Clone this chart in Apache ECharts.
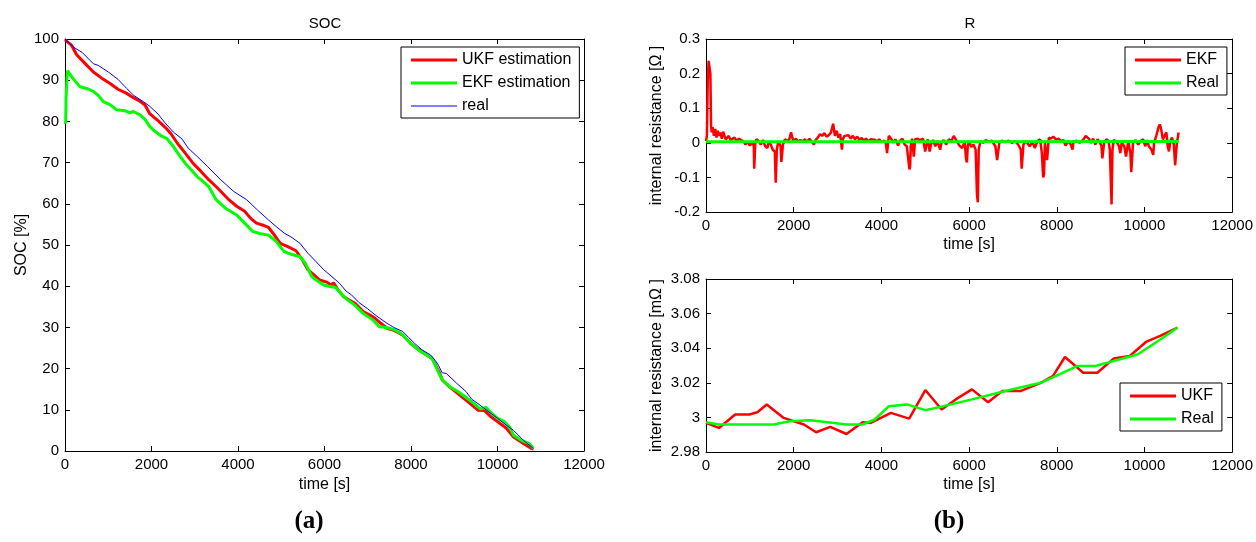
<!DOCTYPE html>
<html>
<head>
<meta charset="utf-8">
<title>SOC / R</title>
<script src="https://cdn.jsdelivr.net/npm/echarts@6/dist/echarts.min.js"></script>
<style>
  html, body { margin: 0; padding: 0; background: #fff; }
  #main { width: 1256px; height: 542px; }
</style>
</head>
<body>
<div id="main"></div>
<script>
// ---- data ----
// (a) SOC [%] vs time [s]
var socUkf = [[0,99.8],[150,98.5],[270,96.2],[450,94.2],[655,92.0],[850,90.5],[1043,89.2],[1226,87.8],[1426,86.8],[1591,85.7],[1734,84.9],[1850,84.0],
  [1957,81.9],[2150,80.2],[2323,78.5],[2450,77.0],[2598,74.7],[2780,72.3],[2963,69.8],[3150,67.8],[3329,65.8],[3550,63.6],[3787,61.0],[3970,59.4],
  [4153,58.2],[4300,56.4],[4427,55.3],[4580,54.8],[4702,54.3],[4850,52.3],[4976,50.4],[5150,49.6],[5342,48.6],[5500,46.2],[5616,44.0],[5750,42.8],
  [5890,41.5],[6050,41.0],[6150,40.3],[6210,40.8],[6300,39.3],[6439,37.5],[6560,36.7],[6713,35.8],[6900,33.8],[7050,33.0],[7170,32.2],[7300,31.0],
  [7445,29.8],[7600,29.3],[7811,28.1],[7994,26.1],[8150,24.8],[8360,23.3],[8500,22.3],[8560,21.0],[8650,19.2],[8726,17.2],[8900,15.5],[9092,13.9],
  [9300,12.1],[9549,9.9],[9700,9.8],[9850,8.3],[10006,7.1],[10200,5.6],[10372,3.4],[10600,1.8],[10784,0.6],[10830,0.5]];
var socEkf = [[0,80.0],[15,79.5],[25,86.0],[37,88.5],[55,92.3],[77,92.0],[200,90.2],[347,88.4],[500,88.0],[655,87.3],[780,86.2],[886,84.8],
  [1050,84.0],[1194,82.8],[1380,82.6],[1500,82.1],[1580,82.4],[1734,81.6],[1850,80.5],[1957,78.8],[2042,77.9],[2232,76.4],[2350,75.9],[2506,73.9],
  [2650,71.7],[2781,69.8],[2920,68.2],[3055,66.6],[3200,65.3],[3329,64.1],[3494,61.0],[3700,59.0],[3970,57.3],[4153,55.3],[4336,53.3],[4500,52.8],
  [4702,52.4],[4884,50.9],[5067,48.4],[5250,47.7],[5433,47.2],[5560,45.5],[5707,42.3],[5850,41.2],[5982,40.3],[6100,40.0],[6256,39.7],[6400,38.0],
  [6530,36.7],[6700,35.4],[6896,33.4],[7100,32.0],[7262,30.2],[7450,29.9],[7628,29.4],[7800,28.3],[7994,26.1],[8200,24.3],[8360,23.3],[8480,22.6],
  [8543,21.2],[8640,19.0],[8726,17.2],[8900,15.6],[9092,14.4],[9300,12.8],[9458,11.5],[9600,10.2],[9732,10.6],[9850,9.3],[10006,7.9],[10150,7.2],
  [10280,5.8],[10372,3.8],[10550,2.6],[10738,1.8],[10830,0.6]];
var socReal = [[0,100],[23,99.6],[200,98.0],[402,96.7],[655,94.0],[768,93.6],[1000,92.0],[1226,90.2],[1426,88.0],[1591,86.3],[1811,84.8],[1957,83.7],
  [2150,81.8],[2300,79.8],[2505,77.4],[2700,75.8],[2850,73.5],[3055,71.5],[3300,69.0],[3604,65.8],[3900,63.0],[4198,61.0],[4450,58.5],[4702,56.1],
  [4880,54.5],[5067,52.9],[5250,51.8],[5433,50.4],[5616,48.0],[5800,46.0],[5982,44.0],[6150,42.5],[6348,40.7],[6500,38.8],[6622,37.9],[6800,36.0],
  [6988,34.6],[7200,32.8],[7445,31.0],[7600,30.0],[7811,29.0],[7950,27.5],[8086,26.1],[8250,24.6],[8452,23.3],[8560,22.0],[8635,20.8],[8720,19.0],
  [8818,18.8],[9050,16.5],[9275,14.4],[9400,12.6],[9549,11.5],[9800,9.5],[10006,7.9],[10200,6.3],[10372,5.0],[10600,2.6],[10830,0.6]];

// (b) top: internal resistance [Ohm], EKF vs real
var rEkf = [[0,0.005],[20,0.02],[40,0.18],[60,0.237],[80,0.24],[100,0.2],[115,0.05],[130,0.03],[150,0.045],[180,0.02],[210,0.04],[240,0.015],
  [270,0.035],[300,0.02],[330,0.03],[360,0.012],[390,0.032],[420,0.035],[450,0.01],[480,0.015],[520,0.02],[560,0.008],[600,0.012],[650,0.015],
  [700,0.005],[750,0.012],[800,0.008],[860,0.004],[900,-0.005],[950,0.003],[1000,-0.008],[1060,0.002],[1090,-0.01],[1100,-0.075],[1115,-0.07],
  [1125,0.0],[1150,0.01],[1200,0.005],[1250,-0.005],[1300,0.008],[1350,-0.01],[1400,-0.015],[1430,0.002],[1480,-0.005],[1520,-0.02],[1570,-0.025],
  [1590,-0.115],[1605,-0.11],[1615,-0.02],[1650,0.005],[1700,-0.01],[1720,-0.055],[1740,-0.057],[1755,-0.005],[1800,0.01],[1850,0.005],[1900,0.01],
  [1940,0.03],[1960,0.025],[1990,0.005],[2050,0.012],[2100,0.003],[2150,0.008],[2200,0.004],[2260,0.01],[2300,0.002],[2360,0.012],[2400,0.005],
  [2460,-0.005],[2500,0.008],[2550,0.015],[2600,0.025],[2650,0.02],[2700,0.028],[2750,0.018],[2800,0.022],[2850,0.03],[2880,0.045],[2900,0.055],
  [2920,0.05],[2940,0.02],[2980,0.035],[3020,0.015],[3060,0.025],[3100,-0.02],[3120,0.01],[3160,0.02],[3200,0.015],[3250,0.022],[3300,0.012],
  [3350,0.02],[3400,0.01],[3450,0.018],[3500,0.008],[3550,0.014],[3600,0.006],[3650,0.012],[3700,0.004],[3760,0.01],[3800,0.005],[3850,0.009],
  [3900,0.004],[3950,0.01],[4000,0.002],[4060,0.006],[4100,0.0],[4130,-0.03],[4150,-0.028],[4170,0.02],[4200,0.025],[4230,0.01],[4280,0.0],
  [4320,0.01],[4380,-0.008],[4420,0.005],[4480,0.012],[4530,-0.005],[4580,-0.01],[4620,-0.015],[4640,-0.077],[4655,-0.07],[4670,-0.01],[4700,0.012],
  [4740,-0.04],[4755,-0.035],[4770,0.01],[4820,0.012],[4880,0.008],[4950,0.012],[5000,-0.025],[5020,-0.01],[5060,0.01],[5100,-0.025],[5130,-0.005],
  [5180,0.008],[5230,-0.01],[5280,0.005],[5340,-0.02],[5370,0.0],[5420,0.008],[5480,-0.005],[5540,0.01],[5600,0.005],[5650,0.02],[5680,0.018],
  [5720,0.005],[5780,-0.008],[5840,-0.015],[5900,0.003],[5930,-0.045],[5950,-0.057],[5970,-0.01],[6000,0.005],[6050,-0.012],[6100,-0.005],
  [6150,-0.02],[6180,-0.15],[6200,-0.172],[6220,-0.02],[6260,0.005],[6320,0.0],[6380,0.008],[6450,0.003],[6520,0.006],[6600,-0.01],[6640,-0.05],
  [6660,-0.045],[6690,0.0],[6750,0.006],[6820,0.002],[6900,0.006],[6980,0.0],[7050,0.005],[7120,-0.005],[7180,-0.02],[7200,-0.075],[7220,-0.08],
  [7240,-0.005],[7300,0.005],[7380,-0.01],[7450,0.003],[7500,-0.015],[7560,0.005],[7620,0.01],[7660,-0.03],[7690,-0.1],[7710,-0.09],[7730,0.0],
  [7780,-0.05],[7800,-0.045],[7820,0.015],[7870,0.012],[7920,0.018],[7980,0.01],[8040,0.012],[8100,0.005],[8150,0.008],[8200,-0.008],[8260,0.005],
  [8320,-0.005],[8360,-0.02],[8380,0.002],[8450,0.006],[8520,0.0],[8600,0.008],[8660,0.02],[8700,0.025],[8730,0.012],[8780,0.0],[8830,0.012],
  [8880,-0.005],[8930,0.01],[8980,0.002],[9020,-0.01],[9040,-0.045],[9060,-0.05],[9080,0.0],[9130,0.01],[9180,0.005],[9210,-0.02],[9230,-0.1],
  [9250,-0.178],[9270,-0.02],[9300,0.008],[9360,0.004],[9420,-0.01],[9450,-0.03],[9480,0.0],[9540,-0.01],[9580,-0.04],[9600,-0.045],[9630,0.005],
  [9680,-0.03],[9700,-0.085],[9720,-0.08],[9740,0.0],[9800,0.008],[9860,-0.005],[9920,0.006],[9970,0.01],[10020,-0.01],[10060,0.008],[10100,-0.01],
  [10160,-0.02],[10200,-0.035],[10220,0.0],[10270,0.02],[10320,0.045],[10350,0.053],[10380,0.04],[10420,0.01],[10460,0.02],[10500,0.03],
  [10530,-0.01],[10560,-0.025],[10590,0.005],[10630,0.015],[10670,-0.005],[10700,-0.065],[10720,-0.07],[10740,0.0],[10760,0.015],[10780,0.03]];
var rRealTop = [[0,0.003],[5000,0.003],[10780,0.004]];

// (b) bottom: internal resistance [mOhm], UKF vs real
var rUkf = [[0,2.9968],[295,2.9939],[665,3.0017],[988,3.0017],[1172,3.0030],[1385,3.0075],[1772,2.9997],[2003,2.9978],[2234,2.9959],[2511,2.9914],
  [2834,2.9945],[3203,2.9904],[3572,2.9972],[3757,2.9968],[4218,3.0026],[4634,2.9993],[5003,3.0158],[5373,3.0046],[5696,3.0104],[6065,3.0162],
  [6434,3.0088],[6757,3.0152],[7172,3.0152],[7634,3.0200],[7911,3.0239],[8188,3.0349],[8603,3.0258],[8926,3.0258],[9296,3.0340],[9665,3.0355],
  [10034,3.0436],[10358,3.0471],[10754,3.0519]];
var rRealBottom = [[0,2.9972],[295,2.9959],[1542,2.9959],[1911,2.9978],[2373,2.9984],[2926,2.9968],[3203,2.9959],[3572,2.9959],[3849,2.9988],
  [4172,3.0065],[4588,3.0075],[5003,3.0042],[5419,3.0065],[6065,3.0104],[6757,3.0148],[7634,3.0200],[8096,3.0253],[8465,3.0297],[8880,3.0297],
  [9296,3.0326],[9850,3.0365],[10311,3.0442],[10754,3.0519]];

var FONT = '"Liberation Sans", Arial, sans-serif';

// plain numbers, no thousands separator (MATLAB style)
function plain(v) {
  return String(Math.round(v * 1000) / 1000);
}

// 坐标轴 (MATLAB style: ticks inside, box on all four sides)
function makeX(gridIndex, pos, name) {
  return {
    type: 'value', gridIndex: gridIndex, position: pos,
    min: 0, max: 12000, interval: 2000,
    name: name || '', nameLocation: 'middle', nameGap: 25,
    nameTextStyle: { fontSize: 16, color: '#000', fontFamily: FONT },
    axisLine: { show: true, onZero: false, lineStyle: { color: '#000', width: 1 } },
    axisTick: { show: true, inside: true, length: 5, lineStyle: { color: '#000' } },
    axisLabel: { show: pos === 'bottom', fontSize: 15, color: '#000', fontFamily: FONT, margin: 6, formatter: plain },
    splitLine: { show: false }
  };
}
function makeY(gridIndex, pos, min, max, step, name, gap) {
  return {
    type: 'value', gridIndex: gridIndex, position: pos,
    min: min, max: max, interval: step,
    name: name || '', nameLocation: 'middle', nameGap: gap || 40, nameRotate: 90,
    nameTextStyle: { fontSize: 16, color: '#000', fontFamily: FONT },
    axisLine: { show: true, onZero: false, lineStyle: { color: '#000', width: 1 } },
    axisTick: { show: true, inside: true, length: 5, lineStyle: { color: '#000' } },
    axisLabel: { show: pos === 'left', fontSize: 15, color: '#000', fontFamily: FONT, margin: 6, formatter: plain },
    splitLine: { show: false }
  };
}
function makeLegend(names, left, top) {
  return {
    data: names, left: left, top: top, orient: 'vertical',
    icon: 'rect', itemWidth: 46, itemHeight: 3, itemGap: 7,
    padding: [5, 8, 4, 10],
    borderColor: '#000', borderWidth: 1, backgroundColor: '#fff',
    itemStyle: { borderWidth: 0 },
    selectedMode: false,
    textStyle: { fontSize: 16, color: '#000', fontFamily: FONT }
  };
}
function line(name, data, color, width, xi, yi) {
  return {
    name: name, type: 'line', data: data, xAxisIndex: xi, yAxisIndex: yi,
    showSymbol: false, symbol: 'none', animation: false,
    lineStyle: { color: color, width: width }, itemStyle: { color: color }
  };
}

var myChart = echarts.init(document.getElementById('main'));
var option = {
  backgroundColor: '#fff',
  animation: false,
  grid: [
    { left: 65, top: 39, width: 519, height: 412 },
    { left: 706, top: 39, width: 528, height: 173 },
    { left: 706, top: 279, width: 528, height: 173 }
  ],
  xAxis: [
    makeX(0, 'bottom', 'time [s]'), makeX(1, 'bottom', 'time [s]'), makeX(2, 'bottom', 'time [s]'),
    makeX(0, 'top'), makeX(1, 'top'), makeX(2, 'top')
  ],
  yAxis: [
    makeY(0, 'left', 0, 100, 10, 'SOC [%]', 34),
    makeY(1, 'left', -0.2, 0.3, 0.1, 'internal resistance [Ω ]', 41),
    makeY(2, 'left', 2.98, 3.08, 0.02, 'internal resistance [mΩ ]', 41),
    makeY(0, 'right', 0, 100, 10), makeY(1, 'right', -0.2, 0.3, 0.1), makeY(2, 'right', 2.98, 3.08, 0.02)
  ],
  legend: [
    makeLegend([{ name: 'UKF estimation' }, { name: 'EKF estimation' },
                { name: 'real', icon: 'path://M0,0L46,0L46,1L0,1Z' }], 401, 47),
    makeLegend([{ name: 'EKF' }, { name: 'Real' }], 1125, 47),
    makeLegend([{ name: 'UKF' }, { name: 'Real' }], 1120, 383)
  ],
  series: [
    line('UKF estimation', socUkf, '#ff0000', 3, 0, 0),
    line('EKF estimation', socEkf, '#00ff00', 3, 0, 0),
    line('real', socReal, '#0000ff', 1, 0, 0),
    line('EKF', rEkf, '#ff0000', 2.5, 1, 1),
    line('Real', rRealTop, '#00ff00', 3, 1, 1),
    line('UKF', rUkf, '#ff0000', 2.5, 2, 2),
    line('Real', rRealBottom, '#00ff00', 2.5, 2, 2)
  ],
  // titles and panel labels
  graphic: [
    { type: 'text', x: 325, y: 24, style: { text: 'SOC', textAlign: 'center', textVerticalAlign: 'middle', font: '15px ' + FONT, fill: '#000' } },
    { type: 'text', x: 970, y: 24, style: { text: 'R', textAlign: 'center', textVerticalAlign: 'middle', font: '15px ' + FONT, fill: '#000' } },
    { type: 'text', x: 309, y: 522, style: { text: '(a)', textAlign: 'center', textVerticalAlign: 'middle', font: 'bold 25px "Liberation Serif", "Times New Roman", serif', fill: '#000' } },
    { type: 'text', x: 949, y: 522, style: { text: '(b)', textAlign: 'center', textVerticalAlign: 'middle', font: 'bold 25px "Liberation Serif", "Times New Roman", serif', fill: '#000' } }
  ]
};
myChart.setOption(option);
</script>
</body>
</html>
